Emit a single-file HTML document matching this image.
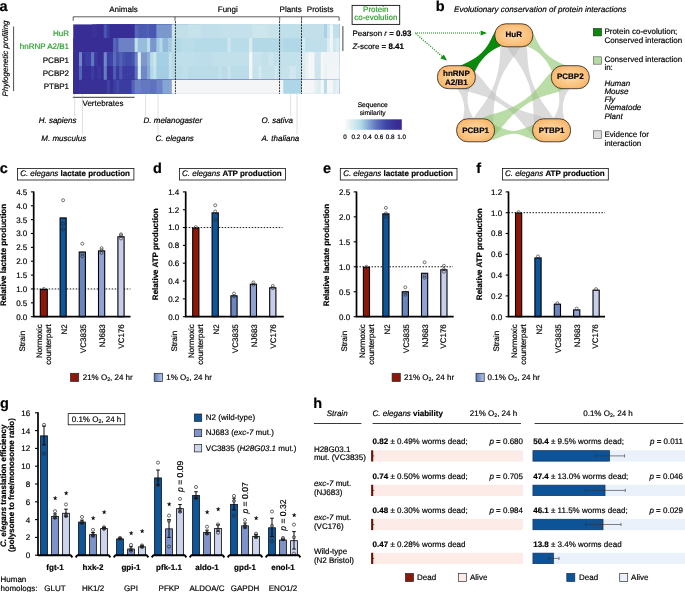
<!DOCTYPE html>
<html lang="en">
<head>
<meta charset="utf-8">
<title>Figure</title>
<style>
html,body{margin:0;padding:0;background:#fff;}
body{width:685px;height:592px;overflow:hidden;}
svg{display:block;will-change:transform;font-family:'Liberation Sans', Arial, Helvetica, sans-serif;}
svg text{text-rendering:geometricPrecision;font-family:'Liberation Sans', Arial, Helvetica, sans-serif;}
</style>
</head>
<body>
<svg width="685" height="592" viewBox="0 0 685 592">
<defs>
<linearGradient id="cbar" x1="0" x2="1" y1="0" y2="0">
<stop offset="0" stop-color="#fbfcfd"/>
<stop offset="0.12" stop-color="#dcedf2"/>
<stop offset="0.28" stop-color="#b3dbe7"/>
<stop offset="0.42" stop-color="#86a6d4"/>
<stop offset="0.55" stop-color="#5f74bd"/>
<stop offset="0.72" stop-color="#3f45a6"/>
<stop offset="0.88" stop-color="#382f97"/>
<stop offset="1" stop-color="#352a90"/>
</linearGradient>
<linearGradient id="bluebox" x1="0" x2="1" y1="0" y2="0">
<stop offset="0" stop-color="#5577bd"/>
<stop offset="1" stop-color="#b9c6e5"/>
</linearGradient>
<radialGradient id="node" cx="0.5" cy="0.5" r="0.75">
<stop offset="0" stop-color="#fddcaa"/>
<stop offset="0.6" stop-color="#fabd76"/>
<stop offset="1" stop-color="#f39a3e"/>
</radialGradient>
</defs>
<rect x="0" y="0" width="685" height="592" fill="#ffffff"/>
<g id="panel-a">
<text x="-0.60" y="10.80" font-size="14.5" font-weight="bold" stroke="#000" stroke-width="0.18">a</text>
<text x="7.50" y="58.50" font-size="8" text-anchor="middle" font-style="italic" stroke="#000" stroke-width="0.18" transform="rotate(-90 7.50 58.50)">Phylogenetic profiling</text>
<line x1="13.60" y1="26.50" x2="13.60" y2="91.20" stroke="#222" stroke-width="0.8" />
<text x="69.00" y="35.75" font-size="8" text-anchor="end" fill="#2a9e2a" stroke="#2a9e2a" stroke-width="0.18">HuR</text>
<text x="69.00" y="49.15" font-size="8" text-anchor="end" fill="#2a9e2a" stroke="#2a9e2a" stroke-width="0.18">hnRNP A2/B1</text>
<text x="69.00" y="62.85" font-size="8" text-anchor="end" stroke="#000" stroke-width="0.18">PCBP1</text>
<text x="69.00" y="76.05" font-size="8" text-anchor="end" stroke="#000" stroke-width="0.18">PCBP2</text>
<text x="69.00" y="89.25" font-size="8" text-anchor="end" stroke="#000" stroke-width="0.18">PTBP1</text>
<g>
<rect x="73.24" y="24.40" width="265.86" height="69.30" fill="#372d94"/>
<rect x="92.12" y="24.40" width="246.98" height="69.30" fill="#3a3199"/>
<rect x="96.76" y="24.40" width="242.34" height="69.30" fill="#372d94"/>
<rect x="103.72" y="24.40" width="235.38" height="69.30" fill="#4a55ad"/>
<rect x="106.82" y="24.40" width="232.28" height="69.30" fill="#3b3ba0"/>
<rect x="109.60" y="24.40" width="229.50" height="69.30" fill="#372e95"/>
<rect x="134.67" y="24.40" width="204.43" height="69.30" fill="#5767b8"/>
<rect x="138.54" y="24.40" width="200.56" height="69.30" fill="#4b5bb2"/>
<rect x="146.28" y="24.40" width="192.82" height="69.30" fill="#5060b4"/>
<rect x="149.38" y="24.40" width="189.72" height="69.30" fill="#4858b0"/>
<rect x="156.34" y="24.40" width="182.76" height="69.30" fill="#7b98cd"/>
<rect x="171.81" y="24.40" width="167.29" height="69.30" fill="#cbe4ed"/>
<rect x="174.89" y="24.40" width="164.21" height="69.30" fill="#c3e0ea"/>
<rect x="188.06" y="24.40" width="151.04" height="69.30" fill="#c6e2eb"/>
<rect x="200.91" y="24.40" width="138.19" height="69.30" fill="#c1dfea"/>
<rect x="220.18" y="24.40" width="118.92" height="69.30" fill="#c4e1eb"/>
<rect x="252.30" y="24.40" width="86.80" height="69.30" fill="#cde5ed"/>
<rect x="268.35" y="24.40" width="70.75" height="69.30" fill="#c8e3ec"/>
<rect x="279.75" y="24.40" width="59.35" height="69.30" fill="#bfdfea"/>
<rect x="301.62" y="24.40" width="37.48" height="69.30" fill="#c3e0ea"/>
<rect x="323.88" y="24.40" width="15.23" height="69.30" fill="#a8d3e4"/>
<rect x="327.00" y="24.40" width="12.10" height="69.30" fill="#cfe6ee"/>
<rect x="329.75" y="24.40" width="9.35" height="69.30" fill="#eef4f7"/>
<rect x="333.00" y="24.40" width="6.10" height="69.30" fill="#bfdfea"/>
<rect x="73.24" y="38.00" width="265.86" height="55.70" fill="#372d94"/>
<rect x="113.01" y="38.00" width="226.09" height="55.70" fill="#5464b6"/>
<rect x="116.10" y="38.00" width="223.00" height="55.70" fill="#4a58b0"/>
<rect x="118.43" y="38.00" width="220.67" height="55.70" fill="#6c82c4"/>
<rect x="134.67" y="38.00" width="204.43" height="55.70" fill="#bfe0ea"/>
<rect x="137.77" y="38.00" width="201.33" height="55.70" fill="#97bcdc"/>
<rect x="147.05" y="38.00" width="192.05" height="55.70" fill="#b8dde8"/>
<rect x="150.15" y="38.00" width="188.95" height="55.70" fill="#7a96cc"/>
<rect x="156.34" y="38.00" width="182.76" height="55.70" fill="#a0c8e0"/>
<rect x="159.43" y="38.00" width="179.67" height="55.70" fill="#b5dbe7"/>
<rect x="162.53" y="38.00" width="176.57" height="55.70" fill="#94b8da"/>
<rect x="167.95" y="38.00" width="171.15" height="55.70" fill="#a5cde2"/>
<rect x="171.81" y="38.00" width="167.29" height="55.70" fill="#bfe0ea"/>
<rect x="174.89" y="38.00" width="164.21" height="55.70" fill="#b3d9e7"/>
<rect x="180.83" y="38.00" width="158.27" height="55.70" fill="#bbdde9"/>
<rect x="193.68" y="38.00" width="145.42" height="55.70" fill="#b6dbe8"/>
<rect x="227.40" y="38.00" width="111.70" height="55.70" fill="#cfe6ee"/>
<rect x="230.62" y="38.00" width="108.48" height="55.70" fill="#b8dce8"/>
<rect x="249.08" y="38.00" width="90.02" height="55.70" fill="#dcebf2"/>
<rect x="252.30" y="38.00" width="86.80" height="55.70" fill="#b3d9e7"/>
<rect x="279.75" y="38.00" width="59.35" height="55.70" fill="#b8dce8"/>
<rect x="283.25" y="38.00" width="55.85" height="55.70" fill="#b0d8e6"/>
<rect x="301.62" y="38.00" width="37.48" height="55.70" fill="#d5e9f0"/>
<rect x="305.12" y="38.00" width="33.98" height="55.70" fill="#bfdfea"/>
<rect x="327.00" y="38.00" width="12.10" height="55.70" fill="#dcedf2"/>
<rect x="329.75" y="38.00" width="9.35" height="55.70" fill="#eef4f7"/>
<rect x="333.00" y="38.00" width="6.10" height="55.70" fill="#cfe6ee"/>
<rect x="335.75" y="38.00" width="3.35" height="55.70" fill="#d8ebf1"/>
<rect x="73.24" y="52.20" width="265.86" height="41.50" fill="#372d94"/>
<rect x="78.96" y="52.20" width="260.14" height="41.50" fill="#6f86c6"/>
<rect x="82.06" y="52.20" width="257.04" height="41.50" fill="#3a329a"/>
<rect x="85.15" y="52.20" width="253.95" height="41.50" fill="#3b3fa3"/>
<rect x="91.03" y="52.20" width="248.07" height="41.50" fill="#6078be"/>
<rect x="94.13" y="52.20" width="244.97" height="41.50" fill="#3b37a0"/>
<rect x="97.53" y="52.20" width="241.57" height="41.50" fill="#382f96"/>
<rect x="103.72" y="52.20" width="235.38" height="41.50" fill="#6f88c8"/>
<rect x="106.82" y="52.20" width="232.28" height="41.50" fill="#3d3fa3"/>
<rect x="109.91" y="52.20" width="229.19" height="41.50" fill="#3f45a6"/>
<rect x="113.01" y="52.20" width="226.09" height="41.50" fill="#5a6dba"/>
<rect x="116.10" y="52.20" width="223.00" height="41.50" fill="#4450ab"/>
<rect x="119.20" y="52.20" width="219.90" height="41.50" fill="#5262b5"/>
<rect x="122.29" y="52.20" width="216.81" height="41.50" fill="#4654ad"/>
<rect x="125.39" y="52.20" width="213.71" height="41.50" fill="#414ba9"/>
<rect x="131.58" y="52.20" width="207.52" height="41.50" fill="#4654ad"/>
<rect x="134.67" y="52.20" width="204.43" height="41.50" fill="#6c84c5"/>
<rect x="137.77" y="52.20" width="201.33" height="41.50" fill="#e4f0f4"/>
<rect x="140.86" y="52.20" width="198.24" height="41.50" fill="#7c98cd"/>
<rect x="147.05" y="52.20" width="192.05" height="41.50" fill="#8fb0d7"/>
<rect x="150.15" y="52.20" width="188.95" height="41.50" fill="#b8dde8"/>
<rect x="153.24" y="52.20" width="185.86" height="41.50" fill="#cde6ee"/>
<rect x="156.34" y="52.20" width="182.76" height="41.50" fill="#a5cfe3"/>
<rect x="168.72" y="52.20" width="170.38" height="41.50" fill="#c3e2eb"/>
<rect x="171.81" y="52.20" width="167.29" height="41.50" fill="#b5dbe7"/>
<rect x="174.89" y="52.20" width="164.21" height="41.50" fill="#bfdfea"/>
<rect x="196.09" y="52.20" width="143.01" height="41.50" fill="#bcdde9"/>
<rect x="212.15" y="52.20" width="126.95" height="41.50" fill="#c1e0ea"/>
<rect x="249.08" y="52.20" width="90.02" height="41.50" fill="#f4f7f9"/>
<rect x="252.30" y="52.20" width="86.80" height="41.50" fill="#c8e3ec"/>
<rect x="261.93" y="52.20" width="77.17" height="41.50" fill="#c3e1eb"/>
<rect x="268.35" y="52.20" width="70.75" height="41.50" fill="#cbe4ed"/>
<rect x="273.17" y="52.20" width="65.93" height="41.50" fill="#c3e1eb"/>
<rect x="279.75" y="52.20" width="59.35" height="41.50" fill="#c3e1eb"/>
<rect x="301.62" y="52.20" width="37.48" height="41.50" fill="#dcedf2"/>
<rect x="305.12" y="52.20" width="33.98" height="41.50" fill="#e4f0f4"/>
<rect x="308.25" y="52.20" width="30.85" height="41.50" fill="#f4f6f8"/>
<rect x="314.50" y="52.20" width="24.60" height="41.50" fill="#cfe6ee"/>
<rect x="320.75" y="52.20" width="18.35" height="41.50" fill="#f4f6f8"/>
<rect x="323.88" y="52.20" width="15.23" height="41.50" fill="#eff4f7"/>
<rect x="73.24" y="66.00" width="265.86" height="27.70" fill="#372d94"/>
<rect x="78.96" y="66.00" width="260.14" height="27.70" fill="#5066b6"/>
<rect x="82.06" y="66.00" width="257.04" height="27.70" fill="#372f96"/>
<rect x="91.03" y="66.00" width="248.07" height="27.70" fill="#3a3da2"/>
<rect x="94.13" y="66.00" width="244.97" height="27.70" fill="#382f96"/>
<rect x="97.53" y="66.00" width="241.57" height="27.70" fill="#3c389f"/>
<rect x="100.63" y="66.00" width="238.47" height="27.70" fill="#372d94"/>
<rect x="103.72" y="66.00" width="235.38" height="27.70" fill="#657dc2"/>
<rect x="106.82" y="66.00" width="232.28" height="27.70" fill="#372d94"/>
<rect x="113.01" y="66.00" width="226.09" height="27.70" fill="#4b5cb2"/>
<rect x="116.10" y="66.00" width="223.00" height="27.70" fill="#3a37a0"/>
<rect x="119.20" y="66.00" width="219.90" height="27.70" fill="#4a59b0"/>
<rect x="122.29" y="66.00" width="216.81" height="27.70" fill="#3b3da2"/>
<rect x="134.67" y="66.00" width="204.43" height="27.70" fill="#5d73bd"/>
<rect x="137.77" y="66.00" width="201.33" height="27.70" fill="#dceef3"/>
<rect x="140.86" y="66.00" width="198.24" height="27.70" fill="#6f88c7"/>
<rect x="147.05" y="66.00" width="192.05" height="27.70" fill="#8aaad5"/>
<rect x="150.15" y="66.00" width="188.95" height="27.70" fill="#b0d8e6"/>
<rect x="153.24" y="66.00" width="185.86" height="27.70" fill="#c5e3ec"/>
<rect x="156.34" y="66.00" width="182.76" height="27.70" fill="#a3cde2"/>
<rect x="168.72" y="66.00" width="170.38" height="27.70" fill="#bfe0ea"/>
<rect x="171.81" y="66.00" width="167.29" height="27.70" fill="#b5dbe7"/>
<rect x="174.89" y="66.00" width="164.21" height="27.70" fill="#bbdde9"/>
<rect x="181.64" y="66.00" width="157.46" height="27.70" fill="#c0dfea"/>
<rect x="188.06" y="66.00" width="151.04" height="27.70" fill="#b9dce8"/>
<rect x="218.57" y="66.00" width="120.53" height="27.70" fill="#c3e1eb"/>
<rect x="221.78" y="66.00" width="117.32" height="27.70" fill="#badce9"/>
<rect x="227.40" y="66.00" width="111.70" height="27.70" fill="#c8e3ec"/>
<rect x="230.62" y="66.00" width="108.48" height="27.70" fill="#bbdde9"/>
<rect x="249.08" y="66.00" width="90.02" height="27.70" fill="#f4f7f9"/>
<rect x="252.30" y="66.00" width="86.80" height="27.70" fill="#c5e2eb"/>
<rect x="258.72" y="66.00" width="80.38" height="27.70" fill="#d5e9f0"/>
<rect x="261.13" y="66.00" width="77.97" height="27.70" fill="#c5e2eb"/>
<rect x="274.78" y="66.00" width="64.32" height="27.70" fill="#d2e8ef"/>
<rect x="277.19" y="66.00" width="61.91" height="27.70" fill="#c5e2eb"/>
<rect x="279.75" y="66.00" width="59.35" height="27.70" fill="#c5e2eb"/>
<rect x="289.50" y="66.00" width="49.60" height="27.70" fill="#d0e7ef"/>
<rect x="295.75" y="66.00" width="43.35" height="27.70" fill="#c5e2eb"/>
<rect x="301.62" y="66.00" width="37.48" height="27.70" fill="#dcedf2"/>
<rect x="305.12" y="66.00" width="33.98" height="27.70" fill="#e9f2f5"/>
<rect x="308.25" y="66.00" width="30.85" height="27.70" fill="#f4f6f8"/>
<rect x="314.50" y="66.00" width="24.60" height="27.70" fill="#cde5ed"/>
<rect x="320.75" y="66.00" width="18.35" height="27.70" fill="#f4f6f8"/>
<rect x="323.88" y="66.00" width="15.23" height="27.70" fill="#e9f2f5"/>
<rect x="327.00" y="66.00" width="12.10" height="27.70" fill="#f1f5f8"/>
<rect x="73.24" y="79.90" width="265.86" height="13.80" fill="#372d94"/>
<rect x="78.96" y="79.90" width="260.14" height="13.80" fill="#382f97"/>
<rect x="106.82" y="79.90" width="232.28" height="13.80" fill="#3d42a5"/>
<rect x="109.91" y="79.90" width="229.19" height="13.80" fill="#372f96"/>
<rect x="113.01" y="79.90" width="226.09" height="13.80" fill="#3b3da2"/>
<rect x="116.10" y="79.90" width="223.00" height="13.80" fill="#4049a8"/>
<rect x="119.20" y="79.90" width="219.90" height="13.80" fill="#3b3ca1"/>
<rect x="131.58" y="79.90" width="207.52" height="13.80" fill="#5364b6"/>
<rect x="134.67" y="79.90" width="204.43" height="13.80" fill="#6a80c3"/>
<rect x="140.86" y="79.90" width="198.24" height="13.80" fill="#6478bf"/>
<rect x="150.15" y="79.90" width="188.95" height="13.80" fill="#5f72bc"/>
<rect x="156.34" y="79.90" width="182.76" height="13.80" fill="#6c83c5"/>
<rect x="162.53" y="79.90" width="176.57" height="13.80" fill="#85a6d4"/>
<rect x="171.81" y="79.90" width="167.29" height="13.80" fill="#f4f6f8"/>
<rect x="174.89" y="79.90" width="164.21" height="13.80" fill="#f3f5f7"/>
<rect x="279.75" y="79.90" width="59.35" height="13.80" fill="#f4f6f8"/>
<rect x="283.25" y="79.90" width="55.85" height="13.80" fill="#add6e6"/>
<rect x="301.62" y="79.90" width="37.48" height="13.80" fill="#f4f6f8"/>
<rect x="314.50" y="79.90" width="24.60" height="13.80" fill="#e4f0f4"/>
<rect x="317.62" y="79.90" width="21.48" height="13.80" fill="#dcedf2"/>
<rect x="320.75" y="79.90" width="18.35" height="13.80" fill="#f4f6f8"/>
<rect x="323.88" y="79.90" width="15.23" height="13.80" fill="#b8dce8"/>
<rect x="327.00" y="79.90" width="12.10" height="13.80" fill="#f4f6f8"/>
<rect x="333.00" y="79.90" width="6.10" height="13.80" fill="#dcedf2"/>
<rect x="335.75" y="79.90" width="3.35" height="13.80" fill="#e4f0f4"/>
</g>
<path d="M73.2 20.8V16.8H339.1V20.8 M175 16.8V20.8 M279.7 16.8V20.8 M301.6 16.8V20.8" fill="none" stroke="#333" stroke-width="0.8"/>
<line x1="175.45" y1="21.20" x2="175.45" y2="94.00" stroke="#111" stroke-width="0.85" stroke-dasharray="2 1"/>
<line x1="279.55" y1="21.20" x2="279.55" y2="94.00" stroke="#111" stroke-width="0.85" stroke-dasharray="2 1"/>
<line x1="301.50" y1="21.20" x2="301.50" y2="94.00" stroke="#111" stroke-width="0.85" stroke-dasharray="2 1"/>
<text x="123.50" y="12.40" font-size="8" text-anchor="middle" stroke="#000" stroke-width="0.18">Animals</text>
<text x="227.80" y="12.40" font-size="8" text-anchor="middle" stroke="#000" stroke-width="0.18">Fungi</text>
<text x="290.70" y="12.40" font-size="8" text-anchor="middle" stroke="#000" stroke-width="0.18">Plants</text>
<text x="320.20" y="12.40" font-size="8" text-anchor="middle" stroke="#000" stroke-width="0.18">Protists</text>
<rect x="342.00" y="26.10" width="1.60" height="25.00" fill="#8a8a8a"/>
<line x1="72.80" y1="97.30" x2="134.60" y2="97.30" stroke="#222" stroke-width="0.9" />
<text x="82.50" y="106.00" font-size="8" stroke="#000" stroke-width="0.18">Vertebrates</text>
<line x1="74.70" y1="94.20" x2="74.70" y2="116.00" stroke="#aaa" stroke-width="0.6" stroke-dasharray="1.2 0.8"/>
<line x1="82.50" y1="94.20" x2="82.50" y2="134.50" stroke="#aaa" stroke-width="0.6" stroke-dasharray="1.2 0.8"/>
<line x1="145.60" y1="94.20" x2="145.60" y2="116.00" stroke="#aaa" stroke-width="0.6" stroke-dasharray="1.2 0.8"/>
<line x1="158.00" y1="94.20" x2="158.00" y2="134.50" stroke="#aaa" stroke-width="0.6" stroke-dasharray="1.2 0.8"/>
<line x1="290.60" y1="94.20" x2="290.60" y2="116.00" stroke="#aaa" stroke-width="0.6" stroke-dasharray="1.2 0.8"/>
<line x1="297.00" y1="94.20" x2="297.00" y2="134.50" stroke="#aaa" stroke-width="0.6" stroke-dasharray="1.2 0.8"/>
<text x="38.70" y="122.60" font-size="8" font-style="italic" stroke="#000" stroke-width="0.18">H. sapiens</text>
<text x="41.30" y="141.40" font-size="8" font-style="italic" stroke="#000" stroke-width="0.18">M. musculus</text>
<text x="143.50" y="122.60" font-size="8" font-style="italic" stroke="#000" stroke-width="0.18">D. melanogaster</text>
<text x="155.60" y="141.40" font-size="8" font-style="italic" stroke="#000" stroke-width="0.18">C. elegans</text>
<text x="261.50" y="122.60" font-size="8" font-style="italic" stroke="#000" stroke-width="0.18">O. sativa</text>
<text x="261.50" y="141.40" font-size="8" font-style="italic" stroke="#000" stroke-width="0.18">A. thaliana</text>
<rect x="352.10" y="5.40" width="47.60" height="19.00" fill="#fff" stroke="#111" stroke-width="0.9"/>
<text x="375.80" y="12.40" font-size="8.0" text-anchor="middle" fill="#2a9e2a" stroke="#2a9e2a" stroke-width="0.18">Protein</text>
<text x="375.80" y="20.40" font-size="8.0" text-anchor="middle" fill="#2a9e2a" stroke="#2a9e2a" stroke-width="0.18">co-evolution</text>
<text x="352.50" y="35.70" font-size="7.95" stroke="#000" stroke-width="0.18">Pearson <tspan font-style="italic">r</tspan> = <tspan font-weight="bold">0.93</tspan></text>
<text x="352.50" y="49.20" font-size="7.95" stroke="#000" stroke-width="0.18"><tspan font-style="italic">Z</tspan>-score = <tspan font-weight="bold">8.41</tspan></text>
<text x="372.70" y="106.80" font-size="6.7" text-anchor="middle" stroke="#000" stroke-width="0.18">Sequence</text>
<text x="372.70" y="114.80" font-size="6.7" text-anchor="middle" stroke="#000" stroke-width="0.18">similarity</text>
<rect x="344.60" y="119.30" width="57.20" height="10.50" fill="url(#cbar)"/>
<text x="344.90" y="138.80" font-size="6.3" text-anchor="middle" stroke="#000" stroke-width="0.18">0</text>
<text x="356.00" y="138.80" font-size="6.3" text-anchor="middle" stroke="#000" stroke-width="0.18">0.2</text>
<text x="367.50" y="138.80" font-size="6.3" text-anchor="middle" stroke="#000" stroke-width="0.18">0.4</text>
<text x="378.80" y="138.80" font-size="6.3" text-anchor="middle" stroke="#000" stroke-width="0.18">0.6</text>
<text x="390.10" y="138.80" font-size="6.3" text-anchor="middle" stroke="#000" stroke-width="0.18">0.8</text>
<text x="401.60" y="138.80" font-size="6.3" text-anchor="middle" stroke="#000" stroke-width="0.18">1.0</text>
</g>
<g id="panel-b">
<text x="435.70" y="10.80" font-size="14.5" font-weight="bold" stroke="#000" stroke-width="0.18">b</text>
<text x="454.00" y="12.30" font-size="8.1" font-style="italic" stroke="#000" stroke-width="0.18">Evolutionary conservation of protein interactions</text>
<path d="M503.24 31.56 C497.85 46.76 503.15 59.33 495.07 82.13 C486.98 104.93 474.94 111.36 469.54 126.56 L490.66 134.04 C496.05 118.84 490.75 106.27 498.83 83.47 C506.92 60.67 518.96 54.24 524.36 39.04 Z" fill="#bdbdbd" fill-opacity="0.55"/>
<path d="M524.37 31.60 C529.70 46.80 524.35 59.34 532.34 82.14 C540.33 104.94 552.34 111.40 557.67 126.60 L536.53 134.00 C531.20 118.80 536.55 106.26 528.56 83.46 C520.57 60.66 508.56 54.20 503.23 39.00 Z" fill="#bdbdbd" fill-opacity="0.55"/>
<path d="M457.72 86.54 C470.55 95.03 483.65 92.67 502.90 105.42 C522.14 118.16 525.08 131.14 537.92 139.64 L550.28 120.96 C537.45 112.47 524.35 114.83 505.10 102.08 C485.86 89.34 482.92 76.36 470.08 67.86 Z" fill="#bdbdbd" fill-opacity="0.55"/>
<path d="M452.82 78.86 C454.10 87.35 462.01 91.60 463.92 104.34 C465.83 117.09 459.50 123.46 460.77 131.96 L478.97 129.23 C477.70 120.74 469.78 116.49 467.88 103.75 C465.97 91.01 472.29 84.63 471.02 76.13 Z" fill="#bdbdbd" fill-opacity="0.55"/>
<path d="M573.89 78.76 C572.70 87.25 564.82 91.56 563.04 104.31 C561.25 117.05 567.63 123.36 566.44 131.86 L548.22 129.30 C549.41 120.80 557.29 116.49 559.07 103.75 C560.86 91.01 554.48 84.70 555.67 76.20 Z" fill="#bdbdbd" fill-opacity="0.55"/>
<path d="M569.01 86.52 C556.26 95.02 543.41 93.00 524.28 105.75 C505.15 118.49 502.06 131.12 489.31 139.62 L476.89 120.98 C489.64 112.48 502.49 114.50 521.62 101.75 C540.75 89.01 543.84 76.38 556.59 67.88 Z" fill="#8cc56a" fill-opacity="0.6"/>
<path d="M529.26 27.42 C535.90 34.12 535.43 42.89 545.39 52.94 C555.35 63.00 564.12 62.61 570.76 69.32 L558.25 81.70 C551.61 75.00 552.08 66.24 542.12 56.18 C532.16 46.12 523.39 46.51 516.75 39.80 Z" fill="#8cc56a" fill-opacity="0.6"/>
<path d="M483.10 141.50 C495.30 141.50 503.23 133.70 513.60 133.70 C523.97 133.70 531.90 141.50 544.10 141.50 L544.10 123.10 C531.90 123.10 523.97 130.90 513.60 130.90 C503.23 130.90 495.30 123.10 483.10 123.10 Z" fill="#8cc56a" fill-opacity="0.6"/>
<path d="M498.43 27.33 C491.64 34.04 491.83 42.71 481.66 52.76 C471.48 62.82 462.81 62.53 456.03 69.23 L468.40 81.75 C475.18 75.05 474.99 66.38 485.17 56.32 C495.35 46.27 504.01 46.56 510.80 39.85 Z" fill="#0a8a0a" fill-opacity="1.0"/>
<rect x="494.80" y="23.80" width="38.0" height="23.0" rx="11" ry="11" fill="url(#node)" stroke="#222" stroke-width="0.8"/>
<rect x="437.40" y="65.70" width="38.0" height="23.0" rx="11" ry="11" fill="url(#node)" stroke="#222" stroke-width="0.8"/>
<rect x="551.30" y="65.70" width="38.0" height="23.0" rx="11" ry="11" fill="url(#node)" stroke="#222" stroke-width="0.8"/>
<rect x="456.60" y="118.80" width="38.0" height="23.0" rx="11" ry="11" fill="url(#node)" stroke="#222" stroke-width="0.8"/>
<rect x="532.60" y="118.80" width="38.0" height="23.0" rx="11" ry="11" fill="url(#node)" stroke="#222" stroke-width="0.8"/>
<text x="513.80" y="36.80" font-size="8" text-anchor="middle" font-weight="bold" stroke="#000" stroke-width="0.18">HuR</text>
<text x="456.40" y="75.90" font-size="8" text-anchor="middle" font-weight="bold" stroke="#000" stroke-width="0.18">hnRNP</text>
<text x="456.40" y="84.60" font-size="8" text-anchor="middle" font-weight="bold" stroke="#000" stroke-width="0.18">A2/B1</text>
<text x="570.30" y="79.20" font-size="8" text-anchor="middle" font-weight="bold" stroke="#000" stroke-width="0.18">PCBP2</text>
<text x="475.60" y="132.70" font-size="8" text-anchor="middle" font-weight="bold" stroke="#000" stroke-width="0.18">PCBP1</text>
<text x="551.60" y="132.70" font-size="8" text-anchor="middle" font-weight="bold" stroke="#000" stroke-width="0.18">PTBP1</text>
<line x1="415.00" y1="33.00" x2="481.00" y2="33.00" stroke="#0f8f0f" stroke-width="1.2" stroke-dasharray="1 1"/>
<path d="M487 32.9L480.6 30.4L480.6 35.4Z" fill="#0f8f0f"/>
<line x1="415.80" y1="33.60" x2="442.50" y2="56.80" stroke="#0f8f0f" stroke-width="1.2" stroke-dasharray="1.1 1.3"/>
<path d="M447 60.6L440.3 58.4L443.8 54.4Z" fill="#0f8f0f"/>
<rect x="593.30" y="28.50" width="8.20" height="7.40" fill="#0a8a0a" stroke="#222" stroke-width="0.6"/>
<text x="604.40" y="34.30" font-size="8" stroke="#000" stroke-width="0.18">Protein co-evolution;</text>
<text x="604.40" y="43.30" font-size="8" stroke="#000" stroke-width="0.18">Conserved interaction</text>
<rect x="593.30" y="56.80" width="8.20" height="7.40" fill="#b6dba2" stroke="#555" stroke-width="0.6"/>
<text x="604.40" y="62.30" font-size="8" stroke="#000" stroke-width="0.18">Conserved interaction</text>
<text x="604.40" y="70.40" font-size="8" stroke="#000" stroke-width="0.18">in:</text>
<text x="604.40" y="86.40" font-size="8" font-style="italic" stroke="#000" stroke-width="0.18">Human</text>
<text x="604.40" y="94.43" font-size="8" font-style="italic" stroke="#000" stroke-width="0.18">Mouse</text>
<text x="604.40" y="102.46" font-size="8" font-style="italic" stroke="#000" stroke-width="0.18">Fly</text>
<text x="604.40" y="110.49" font-size="8" font-style="italic" stroke="#000" stroke-width="0.18">Nematode</text>
<text x="604.40" y="118.52" font-size="8" font-style="italic" stroke="#000" stroke-width="0.18">Plant</text>
<rect x="593.30" y="130.80" width="8.20" height="7.60" fill="#dcdcdc" stroke="#555" stroke-width="0.6"/>
<text x="604.40" y="136.80" font-size="8" stroke="#000" stroke-width="0.18">Evidence for</text>
<text x="604.40" y="145.50" font-size="8" stroke="#000" stroke-width="0.18">interaction</text>
</g>
<g id="panel-c">
<text x="-0.30" y="172.90" font-size="14.5" font-weight="bold" stroke="#000" stroke-width="0.18">c</text>
<rect x="17.40" y="168.40" width="116.50" height="11.60" fill="#fff" stroke="#111" stroke-width="0.8"/>
<text x="75.05" y="176.40" font-size="8" text-anchor="middle" stroke="#000" stroke-width="0.18"><tspan font-style="italic">C. elegans</tspan> <tspan font-weight="bold">lactate production</tspan></text>
<line x1="33.70" y1="288.97" x2="130.50" y2="288.97" stroke="#000" stroke-width="0.9" stroke-dasharray="1.5 1.5"/>
<rect x="40.30" y="289.47" width="7.00" height="27.23" fill="#8e1708" stroke="#000" stroke-width="1.1"/>
<rect x="60.10" y="217.91" width="6.10" height="98.79" fill="#0f5599" stroke="#000" stroke-width="1.1"/>
<rect x="79.20" y="252.03" width="6.20" height="64.67" fill="#6a86c0" stroke="#000" stroke-width="1.1"/>
<rect x="98.50" y="250.92" width="6.20" height="65.78" fill="#8fa3d3" stroke="#000" stroke-width="1.1"/>
<rect x="117.90" y="236.77" width="6.20" height="79.93" fill="#c6ceeb" stroke="#000" stroke-width="1.1"/>
<circle cx="43.80" cy="288.97" r="1.5" fill="none" stroke="#222" stroke-width="0.6"/>
<circle cx="63.10" cy="200.22" r="1.5" fill="none" stroke="#222" stroke-width="0.6"/>
<circle cx="63.10" cy="223.79" r="1.5" fill="none" stroke="#222" stroke-width="0.6"/>
<circle cx="63.10" cy="229.34" r="1.5" fill="none" stroke="#222" stroke-width="0.6"/>
<circle cx="82.30" cy="243.76" r="1.5" fill="none" stroke="#222" stroke-width="0.6"/>
<circle cx="82.30" cy="253.47" r="1.5" fill="none" stroke="#222" stroke-width="0.6"/>
<circle cx="82.30" cy="256.24" r="1.5" fill="none" stroke="#222" stroke-width="0.6"/>
<circle cx="101.60" cy="248.20" r="1.5" fill="none" stroke="#222" stroke-width="0.6"/>
<circle cx="101.60" cy="250.14" r="1.5" fill="none" stroke="#222" stroke-width="0.6"/>
<circle cx="101.60" cy="252.91" r="1.5" fill="none" stroke="#222" stroke-width="0.6"/>
<circle cx="121.00" cy="234.33" r="1.5" fill="none" stroke="#222" stroke-width="0.6"/>
<circle cx="121.00" cy="235.44" r="1.5" fill="none" stroke="#222" stroke-width="0.6"/>
<circle cx="121.00" cy="238.49" r="1.5" fill="none" stroke="#222" stroke-width="0.6"/>
<path d="M33.7 191.4V316.7H130.5" fill="none" stroke="#000" stroke-width="1.7"/>
<line x1="30.90" y1="316.70" x2="33.70" y2="316.70" stroke="#000" stroke-width="1.1" />
<text x="27.30" y="319.60" font-size="8" text-anchor="end" stroke="#000" stroke-width="0.18">0.0</text>
<line x1="30.90" y1="302.83" x2="33.70" y2="302.83" stroke="#000" stroke-width="1.1" />
<text x="27.30" y="305.73" font-size="8" text-anchor="end" stroke="#000" stroke-width="0.18">0.5</text>
<line x1="30.90" y1="288.97" x2="33.70" y2="288.97" stroke="#000" stroke-width="1.1" />
<text x="27.30" y="291.87" font-size="8" text-anchor="end" stroke="#000" stroke-width="0.18">1.0</text>
<line x1="30.90" y1="275.10" x2="33.70" y2="275.10" stroke="#000" stroke-width="1.1" />
<text x="27.30" y="278.00" font-size="8" text-anchor="end" stroke="#000" stroke-width="0.18">1.5</text>
<line x1="30.90" y1="261.23" x2="33.70" y2="261.23" stroke="#000" stroke-width="1.1" />
<text x="27.30" y="264.13" font-size="8" text-anchor="end" stroke="#000" stroke-width="0.18">2.0</text>
<line x1="30.90" y1="247.37" x2="33.70" y2="247.37" stroke="#000" stroke-width="1.1" />
<text x="27.30" y="250.27" font-size="8" text-anchor="end" stroke="#000" stroke-width="0.18">2.5</text>
<line x1="30.90" y1="233.50" x2="33.70" y2="233.50" stroke="#000" stroke-width="1.1" />
<text x="27.30" y="236.40" font-size="8" text-anchor="end" stroke="#000" stroke-width="0.18">3.0</text>
<line x1="30.90" y1="219.63" x2="33.70" y2="219.63" stroke="#000" stroke-width="1.1" />
<text x="27.30" y="222.53" font-size="8" text-anchor="end" stroke="#000" stroke-width="0.18">3.5</text>
<line x1="30.90" y1="205.77" x2="33.70" y2="205.77" stroke="#000" stroke-width="1.1" />
<text x="27.30" y="208.67" font-size="8" text-anchor="end" stroke="#000" stroke-width="0.18">4.0</text>
<line x1="30.90" y1="191.90" x2="33.70" y2="191.90" stroke="#000" stroke-width="1.1" />
<text x="27.30" y="194.80" font-size="8" text-anchor="end" stroke="#000" stroke-width="0.18">4.5</text>
<text x="5.80" y="255.00" font-size="8" text-anchor="middle" font-weight="bold" stroke="#000" stroke-width="0.18" transform="rotate(-90 5.80 255.00)">Relative lactate production</text>
<text x="24.60" y="330.70" font-size="8" text-anchor="end" stroke="#000" stroke-width="0.18" transform="rotate(-90 24.60 330.70)">Strain</text>
<text x="42.40" y="324.20" font-size="8" text-anchor="end" stroke="#000" stroke-width="0.18" transform="rotate(-90 42.40 324.20)">Normoxic</text>
<text x="51.20" y="324.20" font-size="8" text-anchor="end" stroke="#000" stroke-width="0.18" transform="rotate(-90 51.20 324.20)">counterpart</text>
<text x="66.80" y="324.20" font-size="8" text-anchor="end" stroke="#000" stroke-width="0.18" transform="rotate(-90 66.80 324.20)">N2</text>
<text x="86.40" y="324.20" font-size="8" text-anchor="end" stroke="#000" stroke-width="0.18" transform="rotate(-90 86.40 324.20)">VC3835</text>
<text x="105.10" y="324.20" font-size="8" text-anchor="end" stroke="#000" stroke-width="0.18" transform="rotate(-90 105.10 324.20)">NJ683</text>
<text x="123.70" y="324.20" font-size="8" text-anchor="end" stroke="#000" stroke-width="0.18" transform="rotate(-90 123.70 324.20)">VC176</text>
</g>
<g id="panel-d">
<text x="152.90" y="172.90" font-size="14.5" font-weight="bold" stroke="#000" stroke-width="0.18">d</text>
<rect x="179.50" y="168.40" width="106.00" height="11.60" fill="#fff" stroke="#111" stroke-width="0.8"/>
<text x="231.90" y="176.40" font-size="8" text-anchor="middle" stroke="#000" stroke-width="0.18"><tspan font-style="italic">C. elegans</tspan> <tspan font-weight="bold">ATP production</tspan></text>
<line x1="185.70" y1="227.56" x2="282.50" y2="227.56" stroke="#000" stroke-width="0.9" stroke-dasharray="1.5 1.5"/>
<rect x="192.70" y="228.06" width="6.20" height="88.64" fill="#8e1708" stroke="#000" stroke-width="1.1"/>
<rect x="212.10" y="212.90" width="6.20" height="103.80" fill="#0f5599" stroke="#000" stroke-width="1.1"/>
<rect x="230.90" y="295.81" width="6.20" height="20.89" fill="#6a86c0" stroke="#000" stroke-width="1.1"/>
<rect x="250.30" y="284.22" width="6.20" height="32.48" fill="#8fa3d3" stroke="#000" stroke-width="1.1"/>
<rect x="269.70" y="287.78" width="6.20" height="28.92" fill="#c6ceeb" stroke="#000" stroke-width="1.1"/>
<circle cx="195.80" cy="227.11" r="1.5" fill="none" stroke="#222" stroke-width="0.6"/>
<circle cx="215.20" cy="205.27" r="1.5" fill="none" stroke="#222" stroke-width="0.6"/>
<circle cx="215.20" cy="211.51" r="1.5" fill="none" stroke="#222" stroke-width="0.6"/>
<circle cx="215.20" cy="219.53" r="1.5" fill="none" stroke="#222" stroke-width="0.6"/>
<circle cx="234.00" cy="293.52" r="1.5" fill="none" stroke="#222" stroke-width="0.6"/>
<circle cx="234.00" cy="296.20" r="1.5" fill="none" stroke="#222" stroke-width="0.6"/>
<circle cx="253.40" cy="282.38" r="1.5" fill="none" stroke="#222" stroke-width="0.6"/>
<circle cx="253.40" cy="284.61" r="1.5" fill="none" stroke="#222" stroke-width="0.6"/>
<circle cx="272.80" cy="285.95" r="1.5" fill="none" stroke="#222" stroke-width="0.6"/>
<circle cx="272.80" cy="288.17" r="1.5" fill="none" stroke="#222" stroke-width="0.6"/>
<path d="M185.7 191.4V316.7H283.8" fill="none" stroke="#000" stroke-width="1.7"/>
<line x1="182.90" y1="316.70" x2="185.70" y2="316.70" stroke="#000" stroke-width="1.1" />
<text x="179.30" y="319.60" font-size="8" text-anchor="end" stroke="#000" stroke-width="0.18">0.0</text>
<line x1="182.90" y1="298.87" x2="185.70" y2="298.87" stroke="#000" stroke-width="1.1" />
<text x="179.30" y="301.77" font-size="8" text-anchor="end" stroke="#000" stroke-width="0.18">0.2</text>
<line x1="182.90" y1="281.04" x2="185.70" y2="281.04" stroke="#000" stroke-width="1.1" />
<text x="179.30" y="283.94" font-size="8" text-anchor="end" stroke="#000" stroke-width="0.18">0.4</text>
<line x1="182.90" y1="263.21" x2="185.70" y2="263.21" stroke="#000" stroke-width="1.1" />
<text x="179.30" y="266.11" font-size="8" text-anchor="end" stroke="#000" stroke-width="0.18">0.6</text>
<line x1="182.90" y1="245.39" x2="185.70" y2="245.39" stroke="#000" stroke-width="1.1" />
<text x="179.30" y="248.29" font-size="8" text-anchor="end" stroke="#000" stroke-width="0.18">0.8</text>
<line x1="182.90" y1="227.56" x2="185.70" y2="227.56" stroke="#000" stroke-width="1.1" />
<text x="179.30" y="230.46" font-size="8" text-anchor="end" stroke="#000" stroke-width="0.18">1.0</text>
<line x1="182.90" y1="209.73" x2="185.70" y2="209.73" stroke="#000" stroke-width="1.1" />
<text x="179.30" y="212.63" font-size="8" text-anchor="end" stroke="#000" stroke-width="0.18">1.2</text>
<line x1="182.90" y1="191.90" x2="185.70" y2="191.90" stroke="#000" stroke-width="1.1" />
<text x="179.30" y="194.80" font-size="8" text-anchor="end" stroke="#000" stroke-width="0.18">1.4</text>
<text x="158.40" y="254.20" font-size="8" text-anchor="middle" font-weight="bold" stroke="#000" stroke-width="0.18" transform="rotate(-90 158.40 254.20)">Relative ATP production</text>
<text x="176.60" y="330.70" font-size="8" text-anchor="end" stroke="#000" stroke-width="0.18" transform="rotate(-90 176.60 330.70)">Strain</text>
<text x="194.40" y="324.20" font-size="8" text-anchor="end" stroke="#000" stroke-width="0.18" transform="rotate(-90 194.40 324.20)">Normoxic</text>
<text x="203.20" y="324.20" font-size="8" text-anchor="end" stroke="#000" stroke-width="0.18" transform="rotate(-90 203.20 324.20)">counterpart</text>
<text x="218.80" y="324.20" font-size="8" text-anchor="end" stroke="#000" stroke-width="0.18" transform="rotate(-90 218.80 324.20)">N2</text>
<text x="238.30" y="324.20" font-size="8" text-anchor="end" stroke="#000" stroke-width="0.18" transform="rotate(-90 238.30 324.20)">VC3835</text>
<text x="257.00" y="324.20" font-size="8" text-anchor="end" stroke="#000" stroke-width="0.18" transform="rotate(-90 257.00 324.20)">NJ683</text>
<text x="275.60" y="324.20" font-size="8" text-anchor="end" stroke="#000" stroke-width="0.18" transform="rotate(-90 275.60 324.20)">VC176</text>
</g>
<g id="panel-e">
<text x="322.90" y="172.90" font-size="14.5" font-weight="bold" stroke="#000" stroke-width="0.18">e</text>
<rect x="340.30" y="168.40" width="116.70" height="11.60" fill="#fff" stroke="#111" stroke-width="0.8"/>
<text x="398.05" y="176.40" font-size="8" text-anchor="middle" stroke="#000" stroke-width="0.18"><tspan font-style="italic">C. elegans</tspan> <tspan font-weight="bold">lactate production</tspan></text>
<line x1="356.50" y1="266.78" x2="453.00" y2="266.78" stroke="#000" stroke-width="0.9" stroke-dasharray="1.5 1.5"/>
<rect x="363.40" y="267.28" width="6.10" height="49.42" fill="#8e1708" stroke="#000" stroke-width="1.1"/>
<rect x="382.80" y="213.87" width="6.20" height="102.83" fill="#0f5599" stroke="#000" stroke-width="1.1"/>
<rect x="402.20" y="291.74" width="6.20" height="24.96" fill="#6a86c0" stroke="#000" stroke-width="1.1"/>
<rect x="421.50" y="273.27" width="6.20" height="43.43" fill="#8fa3d3" stroke="#000" stroke-width="1.1"/>
<rect x="440.80" y="269.78" width="6.20" height="46.92" fill="#c6ceeb" stroke="#000" stroke-width="1.1"/>
<circle cx="366.50" cy="266.78" r="1.5" fill="none" stroke="#222" stroke-width="0.6"/>
<circle cx="385.90" cy="207.87" r="1.5" fill="none" stroke="#222" stroke-width="0.6"/>
<circle cx="385.90" cy="213.37" r="1.5" fill="none" stroke="#222" stroke-width="0.6"/>
<circle cx="385.90" cy="216.86" r="1.5" fill="none" stroke="#222" stroke-width="0.6"/>
<circle cx="405.30" cy="287.25" r="1.5" fill="none" stroke="#222" stroke-width="0.6"/>
<circle cx="405.30" cy="292.74" r="1.5" fill="none" stroke="#222" stroke-width="0.6"/>
<circle cx="405.30" cy="294.74" r="1.5" fill="none" stroke="#222" stroke-width="0.6"/>
<circle cx="424.60" cy="262.29" r="1.5" fill="none" stroke="#222" stroke-width="0.6"/>
<circle cx="424.60" cy="275.77" r="1.5" fill="none" stroke="#222" stroke-width="0.6"/>
<circle cx="424.60" cy="277.76" r="1.5" fill="none" stroke="#222" stroke-width="0.6"/>
<circle cx="443.90" cy="265.78" r="1.5" fill="none" stroke="#222" stroke-width="0.6"/>
<circle cx="443.90" cy="269.28" r="1.5" fill="none" stroke="#222" stroke-width="0.6"/>
<circle cx="443.90" cy="271.77" r="1.5" fill="none" stroke="#222" stroke-width="0.6"/>
<path d="M356.5 191.4V316.7H453.7" fill="none" stroke="#000" stroke-width="1.7"/>
<line x1="353.70" y1="316.70" x2="356.50" y2="316.70" stroke="#000" stroke-width="1.1" />
<text x="350.10" y="319.60" font-size="8" text-anchor="end" stroke="#000" stroke-width="0.18">0.0</text>
<line x1="353.70" y1="291.74" x2="356.50" y2="291.74" stroke="#000" stroke-width="1.1" />
<text x="350.10" y="294.64" font-size="8" text-anchor="end" stroke="#000" stroke-width="0.18">0.5</text>
<line x1="353.70" y1="266.78" x2="356.50" y2="266.78" stroke="#000" stroke-width="1.1" />
<text x="350.10" y="269.68" font-size="8" text-anchor="end" stroke="#000" stroke-width="0.18">1.0</text>
<line x1="353.70" y1="241.82" x2="356.50" y2="241.82" stroke="#000" stroke-width="1.1" />
<text x="350.10" y="244.72" font-size="8" text-anchor="end" stroke="#000" stroke-width="0.18">1.5</text>
<line x1="353.70" y1="216.86" x2="356.50" y2="216.86" stroke="#000" stroke-width="1.1" />
<text x="350.10" y="219.76" font-size="8" text-anchor="end" stroke="#000" stroke-width="0.18">2.0</text>
<line x1="353.70" y1="191.90" x2="356.50" y2="191.90" stroke="#000" stroke-width="1.1" />
<text x="350.10" y="194.80" font-size="8" text-anchor="end" stroke="#000" stroke-width="0.18">2.5</text>
<text x="329.00" y="255.00" font-size="8" text-anchor="middle" font-weight="bold" stroke="#000" stroke-width="0.18" transform="rotate(-90 329.00 255.00)">Relative lactate production</text>
<text x="347.40" y="330.70" font-size="8" text-anchor="end" stroke="#000" stroke-width="0.18" transform="rotate(-90 347.40 330.70)">Strain</text>
<text x="365.20" y="324.20" font-size="8" text-anchor="end" stroke="#000" stroke-width="0.18" transform="rotate(-90 365.20 324.20)">Normoxic</text>
<text x="374.00" y="324.20" font-size="8" text-anchor="end" stroke="#000" stroke-width="0.18" transform="rotate(-90 374.00 324.20)">counterpart</text>
<text x="389.60" y="324.20" font-size="8" text-anchor="end" stroke="#000" stroke-width="0.18" transform="rotate(-90 389.60 324.20)">N2</text>
<text x="409.10" y="324.20" font-size="8" text-anchor="end" stroke="#000" stroke-width="0.18" transform="rotate(-90 409.10 324.20)">VC3835</text>
<text x="427.80" y="324.20" font-size="8" text-anchor="end" stroke="#000" stroke-width="0.18" transform="rotate(-90 427.80 324.20)">NJ683</text>
<text x="446.50" y="324.20" font-size="8" text-anchor="end" stroke="#000" stroke-width="0.18" transform="rotate(-90 446.50 324.20)">VC176</text>
</g>
<g id="panel-f">
<text x="476.20" y="172.90" font-size="14.5" font-weight="bold" stroke="#000" stroke-width="0.18">f</text>
<rect x="502.50" y="168.40" width="105.80" height="11.60" fill="#fff" stroke="#111" stroke-width="0.8"/>
<text x="554.80" y="176.40" font-size="8" text-anchor="middle" stroke="#000" stroke-width="0.18"><tspan font-style="italic">C. elegans</tspan> <tspan font-weight="bold">ATP production</tspan></text>
<line x1="508.50" y1="212.70" x2="605.00" y2="212.70" stroke="#000" stroke-width="0.9" stroke-dasharray="1.5 1.5"/>
<rect x="515.50" y="213.20" width="6.20" height="103.50" fill="#8e1708" stroke="#000" stroke-width="1.1"/>
<rect x="534.90" y="257.92" width="6.20" height="58.78" fill="#0f5599" stroke="#000" stroke-width="1.1"/>
<rect x="554.30" y="304.20" width="6.20" height="12.50" fill="#6a86c0" stroke="#000" stroke-width="1.1"/>
<rect x="573.60" y="309.92" width="6.20" height="6.78" fill="#8fa3d3" stroke="#000" stroke-width="1.1"/>
<rect x="593.00" y="290.16" width="6.20" height="26.54" fill="#c6ceeb" stroke="#000" stroke-width="1.1"/>
<circle cx="518.60" cy="212.18" r="1.5" fill="none" stroke="#222" stroke-width="0.6"/>
<circle cx="538.00" cy="256.38" r="1.5" fill="none" stroke="#222" stroke-width="0.6"/>
<circle cx="557.40" cy="303.18" r="1.5" fill="none" stroke="#222" stroke-width="0.6"/>
<circle cx="576.70" cy="308.59" r="1.5" fill="none" stroke="#222" stroke-width="0.6"/>
<circle cx="596.10" cy="289.14" r="1.5" fill="none" stroke="#222" stroke-width="0.6"/>
<path d="M508.5 191.4V316.7H605.0" fill="none" stroke="#000" stroke-width="1.7"/>
<line x1="505.70" y1="316.70" x2="508.50" y2="316.70" stroke="#000" stroke-width="1.1" />
<text x="502.10" y="319.60" font-size="8" text-anchor="end" stroke="#000" stroke-width="0.18">0.0</text>
<line x1="505.70" y1="295.90" x2="508.50" y2="295.90" stroke="#000" stroke-width="1.1" />
<text x="502.10" y="298.80" font-size="8" text-anchor="end" stroke="#000" stroke-width="0.18">0.2</text>
<line x1="505.70" y1="275.10" x2="508.50" y2="275.10" stroke="#000" stroke-width="1.1" />
<text x="502.10" y="278.00" font-size="8" text-anchor="end" stroke="#000" stroke-width="0.18">0.4</text>
<line x1="505.70" y1="254.30" x2="508.50" y2="254.30" stroke="#000" stroke-width="1.1" />
<text x="502.10" y="257.20" font-size="8" text-anchor="end" stroke="#000" stroke-width="0.18">0.6</text>
<line x1="505.70" y1="233.50" x2="508.50" y2="233.50" stroke="#000" stroke-width="1.1" />
<text x="502.10" y="236.40" font-size="8" text-anchor="end" stroke="#000" stroke-width="0.18">0.8</text>
<line x1="505.70" y1="212.70" x2="508.50" y2="212.70" stroke="#000" stroke-width="1.1" />
<text x="502.10" y="215.60" font-size="8" text-anchor="end" stroke="#000" stroke-width="0.18">1.0</text>
<line x1="505.70" y1="191.90" x2="508.50" y2="191.90" stroke="#000" stroke-width="1.1" />
<text x="502.10" y="194.80" font-size="8" text-anchor="end" stroke="#000" stroke-width="0.18">1.2</text>
<text x="481.70" y="254.20" font-size="8" text-anchor="middle" font-weight="bold" stroke="#000" stroke-width="0.18" transform="rotate(-90 481.70 254.20)">Relative ATP production</text>
<text x="499.40" y="330.70" font-size="8" text-anchor="end" stroke="#000" stroke-width="0.18" transform="rotate(-90 499.40 330.70)">Strain</text>
<text x="517.20" y="324.20" font-size="8" text-anchor="end" stroke="#000" stroke-width="0.18" transform="rotate(-90 517.20 324.20)">Normoxic</text>
<text x="526.00" y="324.20" font-size="8" text-anchor="end" stroke="#000" stroke-width="0.18" transform="rotate(-90 526.00 324.20)">counterpart</text>
<text x="541.60" y="324.20" font-size="8" text-anchor="end" stroke="#000" stroke-width="0.18" transform="rotate(-90 541.60 324.20)">N2</text>
<text x="561.10" y="324.20" font-size="8" text-anchor="end" stroke="#000" stroke-width="0.18" transform="rotate(-90 561.10 324.20)">VC3835</text>
<text x="579.80" y="324.20" font-size="8" text-anchor="end" stroke="#000" stroke-width="0.18" transform="rotate(-90 579.80 324.20)">NJ683</text>
<text x="598.40" y="324.20" font-size="8" text-anchor="end" stroke="#000" stroke-width="0.18" transform="rotate(-90 598.40 324.20)">VC176</text>
</g>
<rect x="70.50" y="373.30" width="8.20" height="8.10" fill="#8e1708" stroke="#222" stroke-width="0.7"/>
<text x="82.70" y="379.90" font-size="8" stroke="#000" stroke-width="0.18">21% O<tspan font-size="5.2" dy="1.1">2</tspan><tspan dy="-1.1">, </tspan>24 hr</text>
<rect x="154.20" y="373.30" width="8.20" height="8.10" fill="url(#bluebox)" stroke="#222" stroke-width="0.7"/>
<text x="166.30" y="379.90" font-size="8" stroke="#000" stroke-width="0.18">1% O<tspan font-size="5.2" dy="1.1">2</tspan><tspan dy="-1.1">, </tspan>24 hr</text>
<rect x="392.10" y="373.30" width="8.20" height="8.10" fill="#8e1708" stroke="#222" stroke-width="0.7"/>
<text x="404.00" y="379.90" font-size="8" stroke="#000" stroke-width="0.18">21% O<tspan font-size="5.2" dy="1.1">2</tspan><tspan dy="-1.1">, </tspan>24 hr</text>
<rect x="476.00" y="373.30" width="8.20" height="8.10" fill="url(#bluebox)" stroke="#222" stroke-width="0.7"/>
<text x="487.60" y="379.90" font-size="8" stroke="#000" stroke-width="0.18">0.1% O<tspan font-size="5.2" dy="1.1">2</tspan><tspan dy="-1.1">, </tspan>24 hr</text>
<g id="panel-g">
<text x="0.00" y="408.00" font-size="14.5" font-weight="bold" stroke="#000" stroke-width="0.18">g</text>
<text x="5.70" y="485.80" font-size="8" text-anchor="middle" font-weight="bold" stroke="#000" stroke-width="0.18" transform="rotate(-90 5.70 485.80)"><tspan font-style="italic">C. elegans</tspan> translation efficiency</text>
<text x="14.40" y="485.00" font-size="8" text-anchor="middle" font-weight="bold" stroke="#000" stroke-width="0.18" transform="rotate(-90 14.40 485.00)">(polysome to free/monosome ratio)</text>
<rect x="68.20" y="413.60" width="56.60" height="11.20" fill="#fff" stroke="#111" stroke-width="0.8"/>
<text x="96.50" y="422.00" font-size="8" text-anchor="middle" stroke="#000" stroke-width="0.18">0.1% O<tspan font-size="5.2" dy="1.1">2</tspan><tspan dy="-1.1">, 24 h</tspan></text>
<rect x="40.60" y="435.85" width="6.80" height="119.36" fill="#0f5599" stroke="#111" stroke-width="0.85"/>
<path d="M44.00 426.15V444.84M42.20 426.15h3.6M42.20 444.84h3.6" fill="none" stroke="#000" stroke-width="0.95"/>
<circle cx="44.00" cy="424.81" r="1.55" fill="none" stroke="#222" stroke-width="0.65"/>
<circle cx="44.00" cy="453.74" r="1.55" fill="none" stroke="#222" stroke-width="0.65"/>
<rect x="51.60" y="516.39" width="6.80" height="38.81" fill="#7d93c9" stroke="#111" stroke-width="0.85"/>
<path d="M55.00 513.82V518.26M53.20 513.82h3.6M53.20 518.26h3.6" fill="none" stroke="#000" stroke-width="0.95"/>
<circle cx="55.00" cy="511.15" r="1.55" fill="none" stroke="#222" stroke-width="0.65"/>
<circle cx="55.00" cy="516.04" r="1.55" fill="none" stroke="#222" stroke-width="0.65"/>
<circle cx="55.00" cy="517.82" r="1.55" fill="none" stroke="#222" stroke-width="0.65"/>
<text x="55.20" y="500.00" font-size="5.4" text-anchor="middle" stroke="#000" stroke-width="0.18" font-family="DejaVu Sans, sans-serif">★</text>
<rect x="62.60" y="513.28" width="6.80" height="41.92" fill="#cdd5ee" stroke="#111" stroke-width="0.85"/>
<path d="M66.00 509.19V516.66M64.20 509.19h3.6M64.20 516.66h3.6" fill="none" stroke="#000" stroke-width="0.95"/>
<circle cx="66.00" cy="504.47" r="1.55" fill="none" stroke="#222" stroke-width="0.65"/>
<circle cx="66.00" cy="514.26" r="1.55" fill="none" stroke="#222" stroke-width="0.65"/>
<circle cx="66.00" cy="516.04" r="1.55" fill="none" stroke="#222" stroke-width="0.65"/>
<text x="66.20" y="494.60" font-size="5.4" text-anchor="middle" stroke="#000" stroke-width="0.18" font-family="DejaVu Sans, sans-serif">★</text>
<path d="M38.0 555.2H70.8l1.6 2.2" fill="none" stroke="#000" stroke-width="1.9" stroke-linejoin="round"/>
<text x="55.00" y="570.20" font-size="8" text-anchor="middle" font-weight="bold" stroke="#000" stroke-width="0.18">fgt-1</text>
<text x="55.00" y="590.60" font-size="8" text-anchor="middle" stroke="#000" stroke-width="0.18">GLUT</text>
<rect x="78.60" y="522.09" width="6.80" height="33.11" fill="#0f5599" stroke="#111" stroke-width="0.85"/>
<path d="M82.00 520.13V523.34M80.20 520.13h3.6M80.20 523.34h3.6" fill="none" stroke="#000" stroke-width="0.95"/>
<circle cx="82.00" cy="516.93" r="1.55" fill="none" stroke="#222" stroke-width="0.65"/>
<circle cx="82.00" cy="521.83" r="1.55" fill="none" stroke="#222" stroke-width="0.65"/>
<circle cx="82.00" cy="523.16" r="1.55" fill="none" stroke="#222" stroke-width="0.65"/>
<rect x="89.60" y="534.64" width="6.80" height="20.56" fill="#7d93c9" stroke="#111" stroke-width="0.85"/>
<path d="M93.00 532.50V536.07M91.20 532.50h3.6M91.20 536.07h3.6" fill="none" stroke="#000" stroke-width="0.95"/>
<circle cx="93.00" cy="529.84" r="1.55" fill="none" stroke="#222" stroke-width="0.65"/>
<circle cx="93.00" cy="534.73" r="1.55" fill="none" stroke="#222" stroke-width="0.65"/>
<circle cx="93.00" cy="536.07" r="1.55" fill="none" stroke="#222" stroke-width="0.65"/>
<text x="93.20" y="519.70" font-size="5.4" text-anchor="middle" stroke="#000" stroke-width="0.18" font-family="DejaVu Sans, sans-serif">★</text>
<rect x="100.60" y="528.58" width="6.80" height="26.62" fill="#cdd5ee" stroke="#111" stroke-width="0.85"/>
<path d="M104.00 527.52V528.95M102.20 527.52h3.6M102.20 528.95h3.6" fill="none" stroke="#000" stroke-width="0.95"/>
<circle cx="104.00" cy="527.17" r="1.55" fill="none" stroke="#222" stroke-width="0.65"/>
<circle cx="104.00" cy="528.06" r="1.55" fill="none" stroke="#222" stroke-width="0.65"/>
<circle cx="104.00" cy="528.95" r="1.55" fill="none" stroke="#222" stroke-width="0.65"/>
<text x="104.20" y="513.50" font-size="5.4" text-anchor="middle" stroke="#000" stroke-width="0.18" font-family="DejaVu Sans, sans-serif">★</text>
<path d="M75.7 557.4000000000001l1.6 -2.2H108.8l1.6 2.2" fill="none" stroke="#000" stroke-width="1.9" stroke-linejoin="round"/>
<text x="93.00" y="570.20" font-size="8" text-anchor="middle" font-weight="bold" stroke="#000" stroke-width="0.18">hxk-2</text>
<text x="93.00" y="590.60" font-size="8" text-anchor="middle" stroke="#000" stroke-width="0.18">HK1/2</text>
<rect x="116.60" y="538.91" width="6.80" height="16.29" fill="#0f5599" stroke="#111" stroke-width="0.85"/>
<path d="M120.00 537.93V539.18M118.20 537.93h3.6M118.20 539.18h3.6" fill="none" stroke="#000" stroke-width="0.95"/>
<circle cx="120.00" cy="537.85" r="1.55" fill="none" stroke="#222" stroke-width="0.65"/>
<circle cx="120.00" cy="538.74" r="1.55" fill="none" stroke="#222" stroke-width="0.65"/>
<rect x="127.60" y="549.05" width="6.80" height="6.15" fill="#7d93c9" stroke="#111" stroke-width="0.85"/>
<path d="M131.00 546.75V550.66M129.20 546.75h3.6M129.20 550.66h3.6" fill="none" stroke="#000" stroke-width="0.95"/>
<circle cx="131.00" cy="544.97" r="1.55" fill="none" stroke="#222" stroke-width="0.65"/>
<circle cx="131.00" cy="549.42" r="1.55" fill="none" stroke="#222" stroke-width="0.65"/>
<circle cx="131.00" cy="550.75" r="1.55" fill="none" stroke="#222" stroke-width="0.65"/>
<text x="131.20" y="534.60" font-size="5.4" text-anchor="middle" stroke="#000" stroke-width="0.18" font-family="DejaVu Sans, sans-serif">★</text>
<rect x="138.60" y="546.83" width="6.80" height="8.37" fill="#cdd5ee" stroke="#111" stroke-width="0.85"/>
<path d="M142.00 545.77V547.19M140.20 545.77h3.6M140.20 547.19h3.6" fill="none" stroke="#000" stroke-width="0.95"/>
<circle cx="142.00" cy="545.41" r="1.55" fill="none" stroke="#222" stroke-width="0.65"/>
<circle cx="142.00" cy="546.30" r="1.55" fill="none" stroke="#222" stroke-width="0.65"/>
<circle cx="142.00" cy="547.19" r="1.55" fill="none" stroke="#222" stroke-width="0.65"/>
<text x="142.20" y="532.50" font-size="5.4" text-anchor="middle" stroke="#000" stroke-width="0.18" font-family="DejaVu Sans, sans-serif">★</text>
<path d="M113.7 557.4000000000001l1.6 -2.2H146.8l1.6 2.2" fill="none" stroke="#000" stroke-width="1.9" stroke-linejoin="round"/>
<text x="131.00" y="570.20" font-size="8" text-anchor="middle" font-weight="bold" stroke="#000" stroke-width="0.18">gpi-1</text>
<text x="131.00" y="590.60" font-size="8" text-anchor="middle" stroke="#000" stroke-width="0.18">GPI</text>
<rect x="154.60" y="477.94" width="6.80" height="77.26" fill="#0f5599" stroke="#111" stroke-width="0.85"/>
<path d="M158.00 470.03V485.16M156.20 470.03h3.6M156.20 485.16h3.6" fill="none" stroke="#000" stroke-width="0.95"/>
<circle cx="158.00" cy="462.64" r="1.55" fill="none" stroke="#222" stroke-width="0.65"/>
<circle cx="158.00" cy="479.55" r="1.55" fill="none" stroke="#222" stroke-width="0.65"/>
<circle cx="158.00" cy="484.89" r="1.55" fill="none" stroke="#222" stroke-width="0.65"/>
<rect x="165.60" y="528.85" width="6.80" height="26.35" fill="#7d93c9" stroke="#111" stroke-width="0.85"/>
<path d="M169.00 519.60V537.40M167.20 519.60h3.6M167.20 537.40h3.6" fill="none" stroke="#000" stroke-width="0.95"/>
<circle cx="169.00" cy="515.60" r="1.55" fill="none" stroke="#222" stroke-width="0.65"/>
<circle cx="169.00" cy="520.94" r="1.55" fill="none" stroke="#222" stroke-width="0.65"/>
<circle cx="169.00" cy="546.57" r="1.55" fill="none" stroke="#222" stroke-width="0.65"/>
<text x="169.20" y="505.60" font-size="5.4" text-anchor="middle" stroke="#000" stroke-width="0.18" font-family="DejaVu Sans, sans-serif">★</text>
<rect x="176.60" y="508.65" width="6.80" height="46.55" fill="#cdd5ee" stroke="#111" stroke-width="0.85"/>
<path d="M180.00 504.56V512.04M178.20 504.56h3.6M178.20 512.04h3.6" fill="none" stroke="#000" stroke-width="0.95"/>
<circle cx="180.00" cy="498.86" r="1.55" fill="none" stroke="#222" stroke-width="0.65"/>
<circle cx="180.00" cy="509.19" r="1.55" fill="none" stroke="#222" stroke-width="0.65"/>
<circle cx="180.00" cy="511.77" r="1.55" fill="none" stroke="#222" stroke-width="0.65"/>
<text x="183.00" y="476.30" font-size="8.6" text-anchor="middle" stroke="#000" stroke-width="0.18" transform="rotate(-90 183.00 476.30)"><tspan font-style="italic">p</tspan> = 0.09</text>
<path d="M151.7 557.4000000000001l1.6 -2.2H184.8l1.6 2.2" fill="none" stroke="#000" stroke-width="1.9" stroke-linejoin="round"/>
<text x="169.00" y="570.20" font-size="8" text-anchor="middle" font-weight="bold" stroke="#000" stroke-width="0.18">pfk-1.1</text>
<text x="169.00" y="590.60" font-size="8" text-anchor="middle" stroke="#000" stroke-width="0.18">PFKP</text>
<rect x="192.60" y="495.48" width="6.80" height="59.73" fill="#0f5599" stroke="#111" stroke-width="0.85"/>
<path d="M196.00 491.74V498.51M194.20 491.74h3.6M194.20 498.51h3.6" fill="none" stroke="#000" stroke-width="0.95"/>
<circle cx="196.00" cy="487.03" r="1.55" fill="none" stroke="#222" stroke-width="0.65"/>
<circle cx="196.00" cy="496.64" r="1.55" fill="none" stroke="#222" stroke-width="0.65"/>
<circle cx="196.00" cy="498.24" r="1.55" fill="none" stroke="#222" stroke-width="0.65"/>
<rect x="203.60" y="532.41" width="6.80" height="22.79" fill="#7d93c9" stroke="#111" stroke-width="0.85"/>
<path d="M207.00 530.10V534.02M205.20 530.10h3.6M205.20 534.02h3.6" fill="none" stroke="#000" stroke-width="0.95"/>
<circle cx="207.00" cy="526.72" r="1.55" fill="none" stroke="#222" stroke-width="0.65"/>
<circle cx="207.00" cy="532.77" r="1.55" fill="none" stroke="#222" stroke-width="0.65"/>
<circle cx="207.00" cy="533.66" r="1.55" fill="none" stroke="#222" stroke-width="0.65"/>
<text x="207.20" y="513.80" font-size="5.4" text-anchor="middle" stroke="#000" stroke-width="0.18" font-family="DejaVu Sans, sans-serif">★</text>
<rect x="214.60" y="528.41" width="6.80" height="26.79" fill="#cdd5ee" stroke="#111" stroke-width="0.85"/>
<path d="M218.00 524.85V531.26M216.20 524.85h3.6M216.20 531.26h3.6" fill="none" stroke="#000" stroke-width="0.95"/>
<circle cx="218.00" cy="524.41" r="1.55" fill="none" stroke="#222" stroke-width="0.65"/>
<circle cx="218.00" cy="529.66" r="1.55" fill="none" stroke="#222" stroke-width="0.65"/>
<circle cx="218.00" cy="532.77" r="1.55" fill="none" stroke="#222" stroke-width="0.65"/>
<text x="218.20" y="511.20" font-size="5.4" text-anchor="middle" stroke="#000" stroke-width="0.18" font-family="DejaVu Sans, sans-serif">★</text>
<path d="M189.7 557.4000000000001l1.6 -2.2H222.8l1.6 2.2" fill="none" stroke="#000" stroke-width="1.9" stroke-linejoin="round"/>
<text x="207.00" y="570.20" font-size="8" text-anchor="middle" font-weight="bold" stroke="#000" stroke-width="0.18">aldo-1</text>
<text x="207.00" y="590.60" font-size="8" text-anchor="middle" stroke="#000" stroke-width="0.18">ALDOA/C</text>
<rect x="230.60" y="504.38" width="6.80" height="50.83" fill="#0f5599" stroke="#111" stroke-width="0.85"/>
<path d="M234.00 498.15V509.90M232.20 498.15h3.6M232.20 509.90h3.6" fill="none" stroke="#000" stroke-width="0.95"/>
<circle cx="234.00" cy="495.93" r="1.55" fill="none" stroke="#222" stroke-width="0.65"/>
<circle cx="234.00" cy="501.00" r="1.55" fill="none" stroke="#222" stroke-width="0.65"/>
<circle cx="234.00" cy="515.68" r="1.55" fill="none" stroke="#222" stroke-width="0.65"/>
<rect x="241.60" y="525.82" width="6.80" height="29.38" fill="#7d93c9" stroke="#111" stroke-width="0.85"/>
<path d="M245.00 522.98V527.97M243.20 522.98h3.6M243.20 527.97h3.6" fill="none" stroke="#000" stroke-width="0.95"/>
<circle cx="245.00" cy="519.87" r="1.55" fill="none" stroke="#222" stroke-width="0.65"/>
<circle cx="245.00" cy="525.83" r="1.55" fill="none" stroke="#222" stroke-width="0.65"/>
<circle cx="245.00" cy="527.43" r="1.55" fill="none" stroke="#222" stroke-width="0.65"/>
<text x="248.00" y="497.90" font-size="8.6" text-anchor="middle" stroke="#000" stroke-width="0.18" transform="rotate(-90 248.00 497.90)"><tspan font-style="italic">p</tspan> = 0.07</text>
<rect x="252.60" y="536.42" width="6.80" height="18.78" fill="#cdd5ee" stroke="#111" stroke-width="0.85"/>
<path d="M256.00 534.29V537.85M254.20 534.29h3.6M254.20 537.85h3.6" fill="none" stroke="#000" stroke-width="0.95"/>
<circle cx="256.00" cy="533.66" r="1.55" fill="none" stroke="#222" stroke-width="0.65"/>
<circle cx="256.00" cy="535.62" r="1.55" fill="none" stroke="#222" stroke-width="0.65"/>
<circle cx="256.00" cy="537.22" r="1.55" fill="none" stroke="#222" stroke-width="0.65"/>
<text x="256.20" y="520.00" font-size="5.4" text-anchor="middle" stroke="#000" stroke-width="0.18" font-family="DejaVu Sans, sans-serif">★</text>
<path d="M227.7 557.4000000000001l1.6 -2.2H260.8l1.6 2.2" fill="none" stroke="#000" stroke-width="1.9" stroke-linejoin="round"/>
<text x="245.00" y="570.20" font-size="8" text-anchor="middle" font-weight="bold" stroke="#000" stroke-width="0.18">gpd-1</text>
<text x="245.00" y="590.60" font-size="8" text-anchor="middle" stroke="#000" stroke-width="0.18">GAPDH</text>
<rect x="268.60" y="527.78" width="6.80" height="27.42" fill="#0f5599" stroke="#111" stroke-width="0.85"/>
<path d="M272.00 518.26V536.60M270.20 518.26h3.6M270.20 536.60h3.6" fill="none" stroke="#000" stroke-width="0.95"/>
<circle cx="272.00" cy="511.50" r="1.55" fill="none" stroke="#222" stroke-width="0.65"/>
<circle cx="272.00" cy="525.83" r="1.55" fill="none" stroke="#222" stroke-width="0.65"/>
<circle cx="272.00" cy="541.41" r="1.55" fill="none" stroke="#222" stroke-width="0.65"/>
<rect x="279.60" y="539.98" width="6.80" height="15.23" fill="#7d93c9" stroke="#111" stroke-width="0.85"/>
<path d="M283.00 539.09V540.16M281.20 539.09h3.6M281.20 540.16h3.6" fill="none" stroke="#000" stroke-width="0.95"/>
<circle cx="283.00" cy="537.93" r="1.55" fill="none" stroke="#222" stroke-width="0.65"/>
<circle cx="283.00" cy="539.18" r="1.55" fill="none" stroke="#222" stroke-width="0.65"/>
<text x="286.00" y="515.10" font-size="8.6" text-anchor="middle" stroke="#000" stroke-width="0.18" transform="rotate(-90 286.00 515.10)"><tspan font-style="italic">p</tspan> = 0.32</text>
<rect x="290.60" y="540.69" width="6.80" height="14.51" fill="#cdd5ee" stroke="#111" stroke-width="0.85"/>
<path d="M294.00 531.62V549.06M292.20 531.62h3.6M292.20 549.06h3.6" fill="none" stroke="#000" stroke-width="0.95"/>
<circle cx="294.00" cy="524.58" r="1.55" fill="none" stroke="#222" stroke-width="0.65"/>
<circle cx="294.00" cy="537.22" r="1.55" fill="none" stroke="#222" stroke-width="0.65"/>
<circle cx="294.00" cy="553.60" r="1.55" fill="none" stroke="#222" stroke-width="0.65"/>
<text x="294.20" y="517.00" font-size="5.4" text-anchor="middle" stroke="#000" stroke-width="0.18" font-family="DejaVu Sans, sans-serif">★</text>
<path d="M265.7 557.4000000000001l1.6 -2.2H298.8l1.6 2.2" fill="none" stroke="#000" stroke-width="1.9" stroke-linejoin="round"/>
<text x="283.00" y="570.20" font-size="8" text-anchor="middle" font-weight="bold" stroke="#000" stroke-width="0.18">enol-1</text>
<text x="283.00" y="590.60" font-size="8" text-anchor="middle" stroke="#000" stroke-width="0.18">ENO1/2</text>
<path d="M38.0 412.3V555.9000000000001" fill="none" stroke="#000" stroke-width="1.7"/>
<line x1="35.00" y1="555.20" x2="38.00" y2="555.20" stroke="#000" stroke-width="1.1" />
<text x="30.20" y="558.10" font-size="8" text-anchor="end" stroke="#000" stroke-width="0.18">0</text>
<line x1="35.00" y1="537.40" x2="38.00" y2="537.40" stroke="#000" stroke-width="1.1" />
<text x="30.20" y="540.30" font-size="8" text-anchor="end" stroke="#000" stroke-width="0.18">2</text>
<line x1="35.00" y1="519.60" x2="38.00" y2="519.60" stroke="#000" stroke-width="1.1" />
<text x="30.20" y="522.50" font-size="8" text-anchor="end" stroke="#000" stroke-width="0.18">4</text>
<line x1="35.00" y1="501.80" x2="38.00" y2="501.80" stroke="#000" stroke-width="1.1" />
<text x="30.20" y="504.70" font-size="8" text-anchor="end" stroke="#000" stroke-width="0.18">6</text>
<line x1="35.00" y1="484.00" x2="38.00" y2="484.00" stroke="#000" stroke-width="1.1" />
<text x="30.20" y="486.90" font-size="8" text-anchor="end" stroke="#000" stroke-width="0.18">8</text>
<line x1="35.00" y1="466.20" x2="38.00" y2="466.20" stroke="#000" stroke-width="1.1" />
<text x="30.20" y="469.10" font-size="8" text-anchor="end" stroke="#000" stroke-width="0.18">10</text>
<line x1="35.00" y1="448.40" x2="38.00" y2="448.40" stroke="#000" stroke-width="1.1" />
<text x="30.20" y="451.30" font-size="8" text-anchor="end" stroke="#000" stroke-width="0.18">12</text>
<line x1="35.00" y1="430.60" x2="38.00" y2="430.60" stroke="#000" stroke-width="1.1" />
<text x="30.20" y="433.50" font-size="8" text-anchor="end" stroke="#000" stroke-width="0.18">14</text>
<line x1="35.00" y1="412.80" x2="38.00" y2="412.80" stroke="#000" stroke-width="1.1" />
<text x="30.20" y="415.70" font-size="8" text-anchor="end" stroke="#000" stroke-width="0.18">16</text>
<text x="0.50" y="581.60" font-size="8" stroke="#000" stroke-width="0.18">Human</text>
<text x="0.50" y="590.60" font-size="8" stroke="#000" stroke-width="0.18">homologs:</text>
<rect x="194.30" y="414.00" width="7.40" height="7.40" fill="#0f5599" stroke="#222" stroke-width="0.7"/>
<text x="205.80" y="420.00" font-size="8" stroke="#000" stroke-width="0.18">N2 (wild-type)</text>
<rect x="194.30" y="429.25" width="7.40" height="7.40" fill="#7d93c9" stroke="#222" stroke-width="0.7"/>
<text x="205.80" y="435.25" font-size="8" stroke="#000" stroke-width="0.18">NJ683 (<tspan font-style="italic">exc-7</tspan> mut.)</text>
<rect x="194.30" y="444.50" width="7.40" height="7.40" fill="#cdd5ee" stroke="#222" stroke-width="0.7"/>
<text x="205.80" y="450.50" font-size="8" stroke="#000" stroke-width="0.18">VC3835 (<tspan font-style="italic">H28G03.1</tspan> mut.)</text>
</g>
<g id="panel-h">
<text x="313.30" y="407.80" font-size="14.5" font-weight="bold" stroke="#000" stroke-width="0.18">h</text>
<text x="326.70" y="416.00" font-size="8" font-style="italic" stroke="#000" stroke-width="0.18">Strain</text>
<line x1="313.90" y1="423.50" x2="361.40" y2="423.50" stroke="#222" stroke-width="0.9" />
<line x1="372.60" y1="423.50" x2="521.00" y2="423.50" stroke="#222" stroke-width="0.9" />
<line x1="534.60" y1="423.50" x2="683.20" y2="423.50" stroke="#222" stroke-width="0.9" />
<text x="372.60" y="416.20" font-size="8" stroke="#000" stroke-width="0.18"><tspan font-style="italic">C. elegans</tspan> <tspan font-weight="bold">viability</tspan></text>
<text x="517.20" y="416.20" font-size="8" text-anchor="end" stroke="#000" stroke-width="0.18">21% O<tspan font-size="5.2" dy="1.1">2</tspan><tspan dy="-1.1">, 24 h</tspan></text>
<text x="608.00" y="416.20" font-size="8" text-anchor="middle" stroke="#000" stroke-width="0.18">0.1% O<tspan font-size="5.2" dy="1.1">2</tspan><tspan dy="-1.1">, 24 h</tspan></text>
<text x="313.90" y="451.70" font-size="8" stroke="#000" stroke-width="0.18">H28G03.1</text>
<text x="313.90" y="460.10" font-size="8" stroke="#000" stroke-width="0.18">mut. (VC3835)</text>
<text x="372.60" y="444.30" font-size="8" stroke="#000" stroke-width="0.18"><tspan font-weight="bold">0.82</tspan> ± 0.49% worms dead;</text>
<text x="523.00" y="444.30" font-size="8" text-anchor="end" stroke="#000" stroke-width="0.18"><tspan font-style="italic">p</tspan> = 0.680</text>
<rect x="371.20" y="450.30" width="151.80" height="11.20" fill="#fdebe8"/>
<rect x="371.10" y="450.30" width="2.10" height="11.20" fill="#6e1206"/>
<line x1="372.10" y1="455.90" x2="374.20" y2="455.90" stroke="#5a0d04" stroke-width="0.7" />
<text x="533.20" y="444.30" font-size="8" stroke="#000" stroke-width="0.18"><tspan font-weight="bold">50.4</tspan> ± 9.5% worms dead;</text>
<text x="683.00" y="444.30" font-size="8" text-anchor="end" stroke="#000" stroke-width="0.18"><tspan font-style="italic">p</tspan> = 0.011</text>
<rect x="532.60" y="450.30" width="152.40" height="11.20" fill="#eaf1fa"/>
<rect x="532.95" y="450.65" width="76.66" height="10.50" fill="#0d5397" stroke="#12305a" stroke-width="0.7"/>
<path d="M595.38 455.90H624.55M595.38 454.30v3.2M624.55 454.30v3.2" fill="none" stroke="#333" stroke-width="0.6"/>
<text x="313.90" y="486.20" font-size="8" stroke="#000" stroke-width="0.18"><tspan font-style="italic">exc-7</tspan> mut.</text>
<text x="313.90" y="494.60" font-size="8" stroke="#000" stroke-width="0.18">(NJ683)</text>
<text x="372.60" y="478.80" font-size="8" stroke="#000" stroke-width="0.18"><tspan font-weight="bold">0.74</tspan> ± 0.50% worms dead;</text>
<text x="523.00" y="478.80" font-size="8" text-anchor="end" stroke="#000" stroke-width="0.18"><tspan font-style="italic">p</tspan> = 0.705</text>
<rect x="371.20" y="484.80" width="151.80" height="11.20" fill="#fdebe8"/>
<rect x="371.10" y="484.80" width="2.10" height="11.20" fill="#6e1206"/>
<line x1="372.10" y1="490.40" x2="374.20" y2="490.40" stroke="#5a0d04" stroke-width="0.7" />
<text x="533.20" y="478.80" font-size="8" stroke="#000" stroke-width="0.18"><tspan font-weight="bold">47.4</tspan> ± 13.0% worms dead;</text>
<text x="683.00" y="478.80" font-size="8" text-anchor="end" stroke="#000" stroke-width="0.18"><tspan font-style="italic">p</tspan> = 0.046</text>
<rect x="532.60" y="484.80" width="152.40" height="11.20" fill="#eaf1fa"/>
<rect x="532.95" y="485.15" width="72.06" height="10.50" fill="#0d5397" stroke="#12305a" stroke-width="0.7"/>
<path d="M585.40 490.40H625.31M585.40 488.80v3.2M625.31 488.80v3.2" fill="none" stroke="#333" stroke-width="0.6"/>
<text x="313.90" y="520.30" font-size="8" stroke="#000" stroke-width="0.18"><tspan font-style="italic">exc-7</tspan> mut.</text>
<text x="313.90" y="528.70" font-size="8" stroke="#000" stroke-width="0.18">(VC176)</text>
<text x="372.60" y="512.90" font-size="8" stroke="#000" stroke-width="0.18"><tspan font-weight="bold">0.48</tspan> ± 0.30% worms dead;</text>
<text x="523.00" y="512.90" font-size="8" text-anchor="end" stroke="#000" stroke-width="0.18"><tspan font-style="italic">p</tspan> = 0.984</text>
<rect x="371.20" y="518.90" width="151.80" height="11.20" fill="#fdebe8"/>
<rect x="371.10" y="518.90" width="2.10" height="11.20" fill="#6e1206"/>
<line x1="372.10" y1="524.50" x2="374.20" y2="524.50" stroke="#5a0d04" stroke-width="0.7" />
<text x="533.20" y="512.90" font-size="8" stroke="#000" stroke-width="0.18"><tspan font-weight="bold">46.1</tspan> ± 11.5% worms dead;</text>
<text x="683.00" y="512.90" font-size="8" text-anchor="end" stroke="#000" stroke-width="0.18"><tspan font-style="italic">p</tspan> = 0.029</text>
<rect x="532.60" y="518.90" width="152.40" height="11.20" fill="#eaf1fa"/>
<rect x="532.95" y="519.25" width="70.06" height="10.50" fill="#0d5397" stroke="#12305a" stroke-width="0.7"/>
<path d="M585.71 524.50H621.02M585.71 522.90v3.2M621.02 522.90v3.2" fill="none" stroke="#333" stroke-width="0.6"/>
<text x="313.90" y="554.20" font-size="8" stroke="#000" stroke-width="0.18">Wild-type</text>
<text x="313.90" y="562.60" font-size="8" stroke="#000" stroke-width="0.18">(N2 Bristol)</text>
<text x="372.60" y="546.80" font-size="8" stroke="#000" stroke-width="0.18"><tspan font-weight="bold">0.47</tspan> ± 0.28% worms dead</text>
<rect x="371.20" y="552.80" width="151.80" height="11.20" fill="#fdebe8"/>
<rect x="371.10" y="552.80" width="2.10" height="11.20" fill="#6e1206"/>
<line x1="372.10" y1="558.40" x2="374.20" y2="558.40" stroke="#5a0d04" stroke-width="0.7" />
<text x="533.20" y="546.80" font-size="8" stroke="#000" stroke-width="0.18"><tspan font-weight="bold">13.8</tspan> ± 3.4% worms dead</text>
<rect x="532.60" y="552.80" width="152.40" height="11.20" fill="#eaf1fa"/>
<rect x="532.95" y="553.15" width="20.48" height="10.50" fill="#0d5397" stroke="#12305a" stroke-width="0.7"/>
<path d="M548.56 558.40H559.00M548.56 556.80v3.2M559.00 556.80v3.2" fill="none" stroke="#333" stroke-width="0.6"/>
<rect x="405.50" y="573.50" width="8.00" height="8.00" fill="#8e1708" stroke="#222" stroke-width="0.7"/>
<text x="417.00" y="580.40" font-size="8" stroke="#000" stroke-width="0.18">Dead</text>
<rect x="458.50" y="573.50" width="8.00" height="8.00" fill="#fdebe8" stroke="#333" stroke-width="0.7"/>
<text x="470.00" y="580.40" font-size="8" stroke="#000" stroke-width="0.18">Alive</text>
<rect x="566.80" y="573.40" width="8.00" height="8.00" fill="#0d5397" stroke="#12305a" stroke-width="0.7"/>
<text x="579.00" y="580.40" font-size="8" stroke="#000" stroke-width="0.18">Dead</text>
<rect x="619.70" y="573.40" width="8.00" height="8.00" fill="#eaf1fa" stroke="#333" stroke-width="0.7"/>
<text x="631.10" y="580.40" font-size="8" stroke="#000" stroke-width="0.18">Alive</text>
</g>
</svg>
</body>
</html>
